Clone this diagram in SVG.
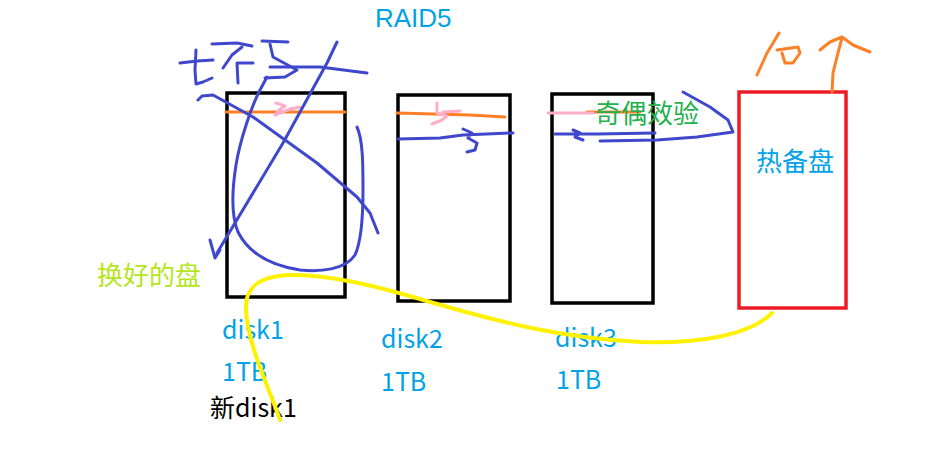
<svg xmlns="http://www.w3.org/2000/svg" width="927" height="463" viewBox="0 0 927 463">
<style>
.box{fill:none;stroke:#000;stroke-width:3.5}
.hot{fill:none;stroke:#ed1c24;stroke-width:3.5}
.t{font-family:"Microsoft YaHei","Noto Sans CJK SC","Noto Sans",sans-serif;font-size:25px}
.c{font-size:26px}
.lb{fill:#00a2e8}
.bl{fill:none;stroke:#3f48cc;stroke-width:3;stroke-linecap:round;stroke-linejoin:round}
.or{fill:none;stroke:#ff7f27;stroke-width:3;stroke-linecap:round;stroke-linejoin:round}
.pk{fill:none;stroke:#ffaec9;stroke-width:3;stroke-linecap:round;stroke-linejoin:round}
.ye{fill:none;stroke:#fff200;stroke-width:4;stroke-linecap:round}
</style>
<rect width="927" height="463" fill="#fff"/>
<text x="375" y="27" fill="#00a2e8" style="font-family:'Liberation Sans',Arial,sans-serif;font-size:26px">RAID5</text>

<g id="disk1">
<rect class="box" x="227" y="93" width="118" height="204"/>
<path class="or" d="M226,112 L345,112"/>
<path class="pk" d="M276,103 L285,106 L279,110 L275,115 L290,109 L300,107"/>
<text class="t lb" x="222" y="339">disk1</text>
<text class="t lb" x="222" y="381">1TB</text>
<text class="t" x="210" y="417" fill="#000">新disk1</text>
</g>

<g id="disk2">
<rect class="box" x="398" y="95" width="112" height="206"/>
<path class="or" d="M397,113 L470,115 L505,117"/>
<path class="pk" d="M437,103 L437,113 L447,116 L442,120 L432,124 M443,112 L460,111"/>
<path class="bl" d="M398,139 L440,138 L463,135 L513,133 M463,129 L472,133 L468,138 L477,143 L475,150 L467,152"/>
<text class="t lb" x="381" y="348">disk2</text>
<text class="t lb" x="381" y="391">1TB</text>
</g>

<g id="disk3">
<rect class="box" x="552" y="94" width="101" height="209"/>
<path class="or" d="M587,112 L640,112"/>
<path class="pk" d="M548,113 L593,113"/>
<path class="bl" d="M555,134 L597,134 L655,133 M573,130 L580,133 L575,137 L583,140"/>
<text class="t lb" x="555" y="347">disk3</text>
<text class="t lb" x="556" y="389">1TB</text>
</g>

<g id="hotspare">
<rect class="hot" x="739" y="92" width="107" height="216"/>
<text class="t c lb" x="756" y="171">热备盘</text>
</g>

<g id="labels">
<text class="t c" x="595" y="123" fill="#22b14c">奇偶效验</text>
<text class="t c" x="97" y="285" fill="#b5e61d">换好的盘</text>
</g>

<g id="broken-marks">
<path class="bl" d="M180,63 L197,61 L213,60"/>
<path class="bl" d="M196,50 L195,70 L196,84 L203,82 L212,78"/>
<path class="bl" d="M212,44 L237,43 L252,46"/>
<path class="bl" d="M242,47 L232,55 L223,68"/>
<path class="bl" d="M237,63 L238,83 M238,63 L253,63"/>
<path class="bl" d="M262,41 L288,42 M270,44 L273,57 L297,70 L285,77 L265,78"/>
<path class="bl" d="M270,67 L320,67 L367,73"/>
<path class="bl" d="M337,42 L327,63 L283,143 L217,253 M210,240 L215,258 L220,250"/>
<path class="bl" d="M198,100 L202,96 L213,95 L253,117 L317,163 L357,197 L370,213 L378,233"/>
<path class="bl" d="M267,77 L260,90 C252,105 240,140 236,165 C232,190 231,215 238,232 C248,252 268,265 300,270 C320,272 345,270 355,255 C362,240 363,215 363,190 C363,165 363,140 357,127"/>
</g>

<g id="connectors">
<path class="bl" d="M600,141 L657,140 L697,137 L733,132 L728,120 L710,107 L683,92"/>
<path class="or" d="M779,33 L767,53 L757,75"/>
<path class="or" d="M777,50 L798,47 L800,53 L793,63 L785,63 L782,53"/>
<path class="or" d="M832,92 L833,73 L838,53 L842,38 M820,50 L830,42 L842,37 L853,45 L870,52"/>
<path class="ye" d="M280,420 C270,390 245,340 246,305 C247,285 262,276 290,275 C330,274 380,287 430,302 C500,322 560,338 640,342 C700,344 750,335 772,313"/>
</g>
</svg>
